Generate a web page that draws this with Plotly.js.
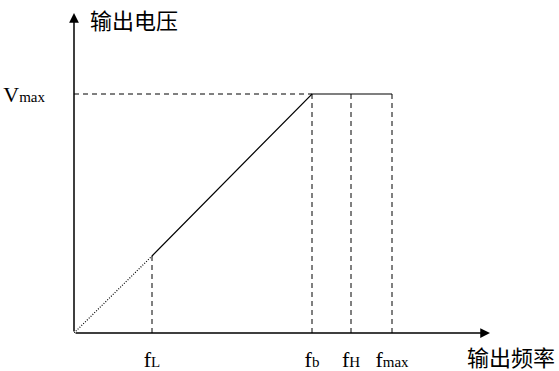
<!DOCTYPE html>
<html>
<head>
<meta charset="utf-8">
<script src="https://cdn.plot.ly/plotly-3.0.1.min.js"></script>
<style>html,body{margin:0;padding:0;background:#fff;}#chart{width:559px;height:371px;}</style>
</head>
<body>
<div id="chart"></div>
<script>
// Frequency marks on the x axis
const freqLabels = ['f<span style="font-size:15px">L</span>', 'f<span style="font-size:15px">b</span>', 'f<span style="font-size:15px">H</span>', 'f<span style="font-size:15px">max</span>'];
const freqValues = [78, 238, 277, 318];
// Voltage mark on the y axis
const voltLabel = 'V<span style="font-size:15px">max</span>';
const vmax = 239;
// V/f curve
const dottedX = [0, 78];
const dottedY = [0, 77];
const solidX = [78, 238, 318];
const solidY = [77, 239, 239];
// axis extents
const xMax = 416;
const yMax = 320;
const xTitle = '输出频率';
const yTitle = '输出电压';

const fL = freqValues[0], fb = freqValues[1], fH = freqValues[2], fmax = freqValues[3];
const dashStyle = '5px,4px';
const traces = [
  {x: dottedX, y: dottedY, mode: 'lines', line: {color: '#000', width: 1.2, dash: '1px,1.6px'}, hoverinfo: 'skip'},
  {x: solidX, y: solidY, mode: 'lines', line: {color: '#000', width: 1.2}, hoverinfo: 'skip'},
  {x: [0, fb], y: [vmax, vmax], mode: 'lines', line: {color: '#000', width: 1, dash: dashStyle}, hoverinfo: 'skip'},
  {x: [fL, fL], y: [0, dottedY[1]], mode: 'lines', line: {color: '#000', width: 1, dash: dashStyle}, hoverinfo: 'skip'},
  {x: [fb, fb], y: [0, vmax], mode: 'lines', line: {color: '#000', width: 1, dash: dashStyle}, hoverinfo: 'skip'},
  {x: [fH, fH], y: [0, vmax], mode: 'lines', line: {color: '#000', width: 1, dash: dashStyle}, hoverinfo: 'skip'},
  {x: [fmax, fmax], y: [0, vmax], mode: 'lines', line: {color: '#000', width: 1, dash: dashStyle}, hoverinfo: 'skip'}
];

const tickFont = {family: 'Liberation Serif, DejaVu Serif, serif', size: 22, color: '#000'};
const layout = {
  width: 559, height: 371,
  margin: {l: 74, r: 559 - 74 - xMax, t: 13, b: 38, pad: 0},
  paper_bgcolor: '#fff', plot_bgcolor: '#fff',
  showlegend: false,
  xaxis: {range: [0, xMax], showgrid: false, zeroline: false, showline: false,
    tickmode: 'array', tickvals: freqValues, ticktext: freqLabels, ticks: '',
    tickfont: tickFont, ticklabelstandoff: 11},
  yaxis: {range: [0, yMax], showgrid: false, zeroline: false, showline: false,
    tickmode: 'array', tickvals: [vmax], ticktext: [voltLabel], ticks: '',
    tickfont: tickFont, ticklabelstandoff: 28},
  annotations: [
    {x: xMax, y: 0, ax: 0, ay: 0, axref: 'x', ayref: 'y', xref: 'x', yref: 'y', text: '',
     showarrow: true, arrowhead: 2, arrowsize: 1.3, arrowwidth: 1.5, arrowcolor: '#000', standoff: 0},
    {x: 0, y: yMax, ax: 0, ay: 0, axref: 'x', ayref: 'y', xref: 'x', yref: 'y', text: '',
     showarrow: true, arrowhead: 2, arrowsize: 1.3, arrowwidth: 1.5, arrowcolor: '#000', standoff: 0},
    {xref: 'paper', yref: 'paper', x: (134 - 74) / xMax, y: (333 - 19) / yMax, text: yTitle, showarrow: false,
     xanchor: 'center', yanchor: 'middle', font: {family: 'Noto Sans CJK SC', size: 22, color: '#000'}},
    {xref: 'paper', yref: 'paper', x: (511 - 74) / xMax, y: (333 - 356) / yMax, text: xTitle, showarrow: false,
     xanchor: 'center', yanchor: 'middle', font: {family: 'Noto Sans CJK SC', size: 22, color: '#000'}}
  ]
};
Plotly.newPlot('chart', traces, layout, {staticPlot: true, displayModeBar: false});
</script>
</body>
</html>
